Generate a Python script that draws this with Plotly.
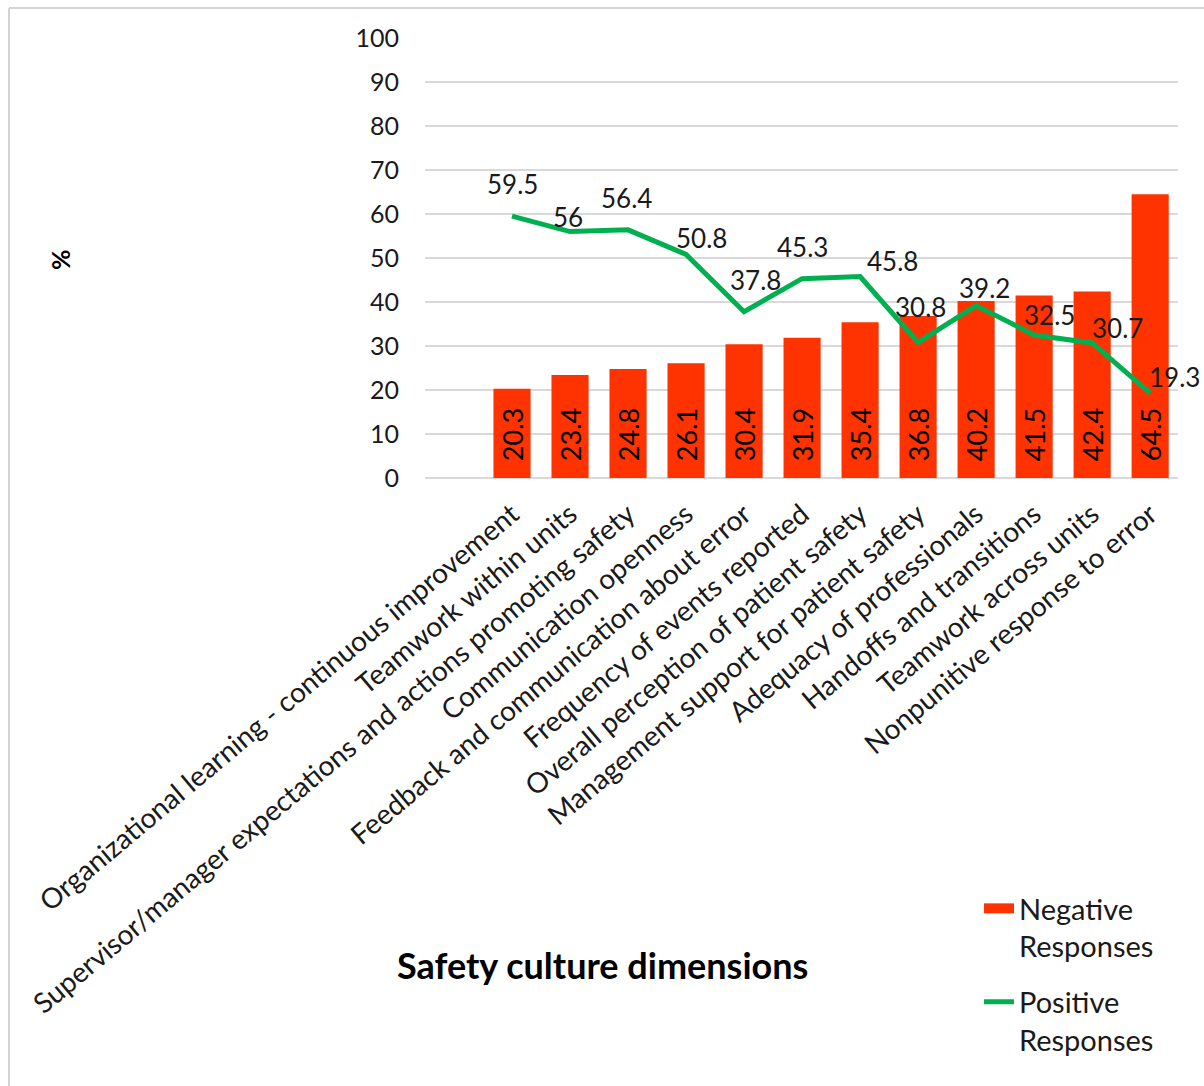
import plotly.graph_objects as go

categories = [
    "Organizational learning - continuous improvement",
    "Teamwork within units",
    "Supervisor/manager expectations and actions promoting safety",
    "Communication openness",
    "Feedback and communication about error",
    "Frequency of events reported",
    "Overall perception of patient safety",
    "Management support for patient safety",
    "Adequacy of professionals",
    "Handoffs and transitions",
    "Teamwork across units",
    "Nonpunitive response to error",
]
negative = [20.3, 23.4, 24.8, 26.1, 30.4, 31.9, 35.4, 36.8, 40.2, 41.5, 42.4, 64.5]
positive = [59.5, 56, 56.4, 50.8, 37.8, 45.3, 45.8, 30.8, 39.2, 32.5, 30.7, 19.3]
y_ticks = [0, 10, 20, 30, 40, 50, 60, 70, 80, 90, 100]

# label offsets (pixels) for the line data labels
lbl_dx = [0, -2, -2, 15, 11, 0, 32, 2, 8, 15, 25, 24]
lbl_dy = [32, 15, 32, 16, 32, 32, 15, 35, 18, 20, 15, 16]

FONT = "Lato"
RED = "#FF3300"
GREEN = "#00B050"
TXT = "#1a1a1a"

W, H = 1204, 1086
L, R, T, B = 425, 1178, 38, 478
pw, ph = R - L, B - T


def px(x):
    return (x - L) / pw


def py(y):
    return (B - y) / ph


xs = list(range(len(categories)))

fig = go.Figure()
fig.add_trace(go.Bar(
    x=xs, y=negative,
    name="Negative<br>Responses", showlegend=False,
    marker=dict(color=RED, line=dict(width=0)),
    width=0.64,
    text=["&nbsp;&nbsp;" + f"{v}" for v in negative],
    textposition="inside", insidetextanchor="start", textangle=-90,
    constraintext="none",
    textfont=dict(family=FONT, size=27, color="black"),
))
fig.add_trace(go.Scatter(
    x=xs, y=positive,
    name="Positive<br>Responses", legendgroup="pos", legendrank=2,
    mode="lines", line=dict(color=GREEN, width=5),
))
# legend key for the bar series (wide swatch, as in the original)
fig.add_trace(go.Scatter(
    x=[None], y=[None], mode="lines",
    name="Negative<br>Responses", legendgroup="neg", legendrank=1,
    line=dict(color=RED, width=13),
))

for i, v in enumerate(positive):
    fig.add_annotation(
        x=i, y=v, xref="x", yref="y", text=f"{v:g}", showarrow=False,
        xshift=lbl_dx[i], yshift=lbl_dy[i],
        font=dict(family=FONT, size=26, color=TXT),
    )

fig.add_annotation(
    x=px(602), y=py(965), xref="paper", yref="paper",
    xanchor="center", yanchor="middle",
    text="<b>Safety culture dimensions</b>", showarrow=False,
    font=dict(family=FONT, size=36, color="black"),
)
fig.add_annotation(
    x=px(60), y=py(260), xref="paper", yref="paper",
    xanchor="center", yanchor="middle",
    text="<b>%</b>", showarrow=False, textangle=-90,
    font=dict(family=FONT, size=25, color="black"),
)

# frame lines
fig.add_shape(type="line", xref="paper", yref="paper",
              x0=px(9), x1=px(1204), y0=py(8), y1=py(8),
              line=dict(color="#D4D4D4", width=2))
fig.add_shape(type="line", xref="paper", yref="paper",
              x0=px(9), x1=px(9), y0=py(8), y1=py(1086),
              line=dict(color="#D4D4D4", width=2))

fig.update_layout(
    width=W, height=H,
    margin=dict(l=L, r=W - R, t=T, b=H - B, pad=0),
    paper_bgcolor="white", plot_bgcolor="white",
    font=dict(family=FONT, color=TXT),
    showlegend=True,
    legend=dict(
        x=px(979), y=py(883), xanchor="left", yanchor="top",
        font=dict(family=FONT, size=29, color=TXT),
        bgcolor="rgba(0,0,0,0)", tracegroupgap=15,
        traceorder="grouped", valign="top",
    ),
    bargap=0.36,
)
fig.update_xaxes(
    tickmode="array", tickvals=xs, ticktext=categories,
    range=[-1.5, 11.48], tickangle=-40,
    tickfont=dict(family=FONT, size=28, color=TXT),
    showgrid=False, showline=False, zeroline=False,
    ticks="outside", ticklen=8, tickcolor="rgba(0,0,0,0)",
)
fig.update_yaxes(
    range=[0, 100], tickmode="array", tickvals=y_ticks,
    tickfont=dict(family=FONT, size=25, color=TXT),
    showgrid=True, gridcolor="#D9D9D9", gridwidth=2,
    zeroline=True, zerolinecolor="#D9D9D9", zerolinewidth=2,
    showline=False,
    ticks="outside", ticklen=20, tickcolor="rgba(0,0,0,0)",
)

fig.write_html("out.html")
